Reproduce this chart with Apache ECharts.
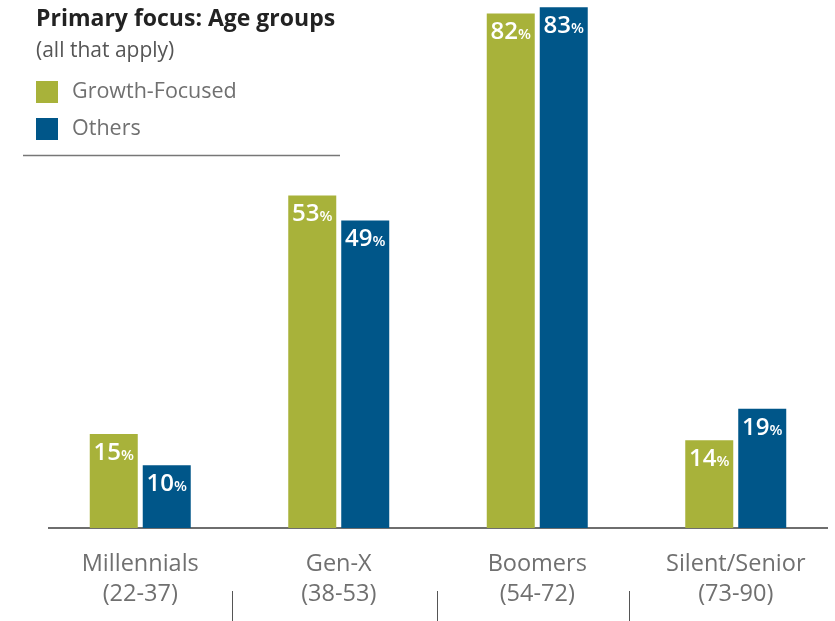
<!DOCTYPE html>
<html>
<head>
<meta charset="utf-8">
<script src="https://cdn.jsdelivr.net/npm/echarts@6/dist/echarts.min.js"></script>
<style>
html,body{margin:0;padding:0;background:#fff;}
#c{width:835px;height:621px;}
</style>
</head>
<body>
<div id="c"></div>
<script>
const categories = ['Millennials\n(22-37)', 'Gen-X\n(38-53)', 'Boomers\n(54-72)', 'Silent/Senior\n(73-90)'];
const seriesNames = ['Growth-Focused', 'Others'];
const growthFocused = [15, 53, 82, 14];
const others = [10, 49, 83, 19];

const FONT = '"Open Sans", "Noto Sans", sans-serif';
const GREEN = '#A8B23A';
const BLUE = '#005689';

const labelCfg = {
  show: true,
  position: 'insideTop',
  distance: 7,
  formatter: p => '{n|' + p.value + '}{p|%}',
  rich: {
    n: { fontFamily: FONT, fontSize: 24, fontWeight: 600, color: '#fff' },
    p: { fontFamily: FONT, fontSize: 15, fontWeight: 600, color: '#fff', padding: [5, 0, 0, 0] }
  }
};

const chart = echarts.init(document.getElementById('c'), null, { renderer: 'canvas' });
chart.setOption({
  backgroundColor: '#fff',
  animation: false,
  title: {
    text: 'Primary focus: Age groups',
    subtext: '(all that apply)',
    left: 36, top: 8, padding: 0, itemGap: 10,
    textStyle: { fontFamily: FONT, fontSize: 23, fontWeight: 'bold', color: '#222' },
    subtextStyle: { fontFamily: FONT, fontSize: 21, color: '#555' }
  },
  legend: {
    orient: 'vertical', left: 36, top: 81, padding: 0,
    itemWidth: 22, itemHeight: 22, itemGap: 15, icon: 'rect',
    data: seriesNames,
    textStyle: { fontFamily: FONT, fontSize: 21.5, color: '#707070', padding: [0, 0, 0, 9] }
  },
  grid: { left: 41, right: -3, top: 1, bottom: 93, containLabel: false },
  xAxis: {
    type: 'category', data: categories,
    axisLine: { show: false }, axisTick: { show: false },
    axisLabel: { fontFamily: FONT, fontSize: 23.5, color: '#707070', lineHeight: 30, margin: 21, interval: 0 }
  },
  yAxis: { type: 'value', min: 0, max: 84, show: false, splitLine: { show: false } },
  series: [
    { name: seriesNames[0], type: 'bar', data: growthFocused, barWidth: 48, barGap: '10.4%', itemStyle: { color: GREEN }, label: labelCfg },
    { name: seriesNames[1], type: 'bar', data: others, barWidth: 48, barGap: '10.4%', itemStyle: { color: BLUE }, label: labelCfg }
  ],
  graphic: [
    { type: 'line', shape: { x1: 48, y1: 528, x2: 828, y2: 528 }, style: { stroke: '#6e6e6e', lineWidth: 2 } },
    { type: 'line', shape: { x1: 23, y1: 155.5, x2: 340, y2: 155.5 }, style: { stroke: '#777', lineWidth: 1.5 } },
    { type: 'line', shape: { x1: 232.5, y1: 591, x2: 232.5, y2: 621 }, style: { stroke: '#555', lineWidth: 1 } },
    { type: 'line', shape: { x1: 437.5, y1: 591, x2: 437.5, y2: 621 }, style: { stroke: '#555', lineWidth: 1 } },
    { type: 'line', shape: { x1: 629.5, y1: 591, x2: 629.5, y2: 621 }, style: { stroke: '#555', lineWidth: 1 } }
  ]
});
</script>
</body>
</html>
